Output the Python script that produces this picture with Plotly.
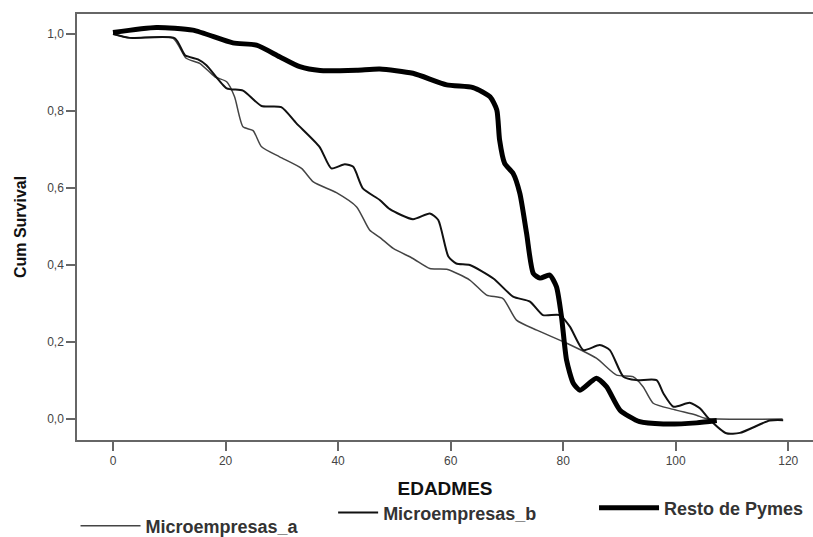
import plotly.graph_objects as go

# Microempresas_a
a_x = [0, 3, 10.7, 13, 15.4, 18.1, 20.2, 21.6, 23.1, 24.9, 26.4, 29.6, 33.5, 35.6, 39.7, 43.3,
       45.6, 47.4, 49.8, 53.3, 56.3, 59.3, 63.4, 66.4, 69.3, 71.7, 75.3, 80.6, 85.9, 89.5,
       92.4, 94.2, 96, 99.6, 103.7, 105.2, 119]
a_y = [1.0, 0.99, 0.989, 0.937, 0.924, 0.889, 0.876, 0.837, 0.759, 0.749, 0.707, 0.681, 0.651,
       0.616, 0.588, 0.551, 0.491, 0.472, 0.443, 0.417, 0.391, 0.389, 0.361, 0.322, 0.313,
       0.257, 0.231, 0.197, 0.158, 0.114, 0.11, 0.084, 0.041, 0.025, 0.01, 0.002, 0.0]

# Microempresas_b
b_x = [0, 3, 11, 12.8, 15.1, 16.6, 20.2, 23.1, 26.4, 29.9, 32.6, 36.7, 38.8, 41.2, 42.7, 44.4,
       47.4, 49.2, 53.3, 56.3, 57.8, 59.6, 61, 63.4, 67.6, 71.1, 74.1, 76.4, 79.4, 81.2, 83.6,
       86.5, 88.3, 90.7, 93, 96.6, 97.8, 99.6, 102.5, 104.3, 105.8, 109, 111.4, 116.7, 119.1]
b_y = [1.0, 0.99, 0.989, 0.945, 0.934, 0.919, 0.859, 0.853, 0.813, 0.81, 0.768, 0.707, 0.651,
       0.662, 0.655, 0.599, 0.569, 0.545, 0.519, 0.534, 0.517, 0.422, 0.404, 0.4, 0.365, 0.318,
       0.305, 0.27, 0.27, 0.24, 0.179, 0.192, 0.179, 0.11, 0.101, 0.101, 0.067, 0.032, 0.042,
       0.028, 0.002, -0.037, -0.036, -0.004, -0.003]

# Resto de Pymes
r_x = [0, 7.7, 14.2, 21.3, 25.5, 29.6, 33.2, 36.8, 43.3, 47.4, 53.3, 59.3, 64, 67, 68.2, 68.7,
       69.6, 71.1, 72.3, 73.5, 74.7, 75.9, 77.6, 78.8, 79.7, 80.6, 81.8, 83, 85.9, 87.7, 90.1,
       93.6, 97.8, 103.7, 107.3]
r_y = [1.004, 1.017, 1.01, 0.977, 0.971, 0.941, 0.915, 0.905, 0.906, 0.909, 0.898, 0.868, 0.861,
       0.837, 0.803, 0.725, 0.664, 0.638, 0.586, 0.482, 0.378, 0.366, 0.374, 0.344, 0.266, 0.153,
       0.093, 0.075, 0.106, 0.084, 0.023, -0.007, -0.013, -0.01, -0.004]

x_ticks = [0, 20, 40, 60, 80, 100, 120]
y_ticks = [0.0, 0.2, 0.4, 0.6, 0.8, 1.0]

fig = go.Figure()
fig.add_trace(go.Scatter(x=a_x, y=a_y, mode="lines", name="Microempresas_a",
                         line=dict(color="#444444", width=1.5, shape="spline", smoothing=0.6),
                         legend="legend"))
fig.add_trace(go.Scatter(x=b_x, y=b_y, mode="lines", name="Microempresas_b",
                         line=dict(color="#111111", width=2, shape="spline", smoothing=0.6),
                         legend="legend2"))
fig.add_trace(go.Scatter(x=r_x, y=r_y, mode="lines", name="Resto de Pymes",
                         line=dict(color="#000000", width=5, shape="spline", smoothing=0.6),
                         legend="legend3"))

leg_font = dict(family="Liberation Sans, Arial", size=18, color="#333333", weight="bold")
fig.update_layout(
    width=813, height=537,
    margin=dict(l=77, r=0, t=14, b=97, autoexpand=False),
    paper_bgcolor="white", plot_bgcolor="white",
    separators=",.",
    showlegend=True,
    legend=dict(x=-0.002, y=-0.202, xanchor="left", yanchor="middle", itemwidth=60,
                font=leg_font, bgcolor="rgba(0,0,0,0)"),
    legend2=dict(x=0.348, y=-0.171, xanchor="left", yanchor="middle", itemwidth=40,
                 font=leg_font, bgcolor="rgba(0,0,0,0)"),
    legend3=dict(x=0.7025, y=-0.160, xanchor="left", yanchor="middle", itemwidth=60,
                 font=leg_font, bgcolor="rgba(0,0,0,0)"),
    xaxis=dict(range=[-6.4, 124.4], tickvals=x_ticks, ticktext=[str(v) for v in x_ticks],
               showgrid=False, zeroline=False, showline=True, linecolor="#666666", linewidth=1.5,
               mirror=True, ticks="outside", ticklen=9, tickwidth=1.5, tickcolor="#666666",
               tickfont=dict(family="Liberation Sans, Arial", size=12, color="#444444"),
               title=dict(text="<b>EDADMES</b>", standoff=15,
                          font=dict(family="Liberation Sans, Arial", size=19, color="#111111"))),
    yaxis=dict(range=[-0.0545, 1.052], tickvals=y_ticks, tickformat=".1f",
               showgrid=False, zeroline=False, showline=True, linecolor="#666666", linewidth=1.5,
               ticks="outside", ticklen=9, tickwidth=1.5, tickcolor="#666666",
               tickfont=dict(family="Liberation Sans, Arial", size=12, color="#444444"),
               title=dict(text="<b>Cum Survival</b>", standoff=17,
                          font=dict(family="Liberation Sans, Arial", size=16, color="#111111"))),
)

fig.write_html("out.html", config={"displayModeBar": False},
               post_script="document.body.style.margin='0';document.body.style.overflow='hidden';")
